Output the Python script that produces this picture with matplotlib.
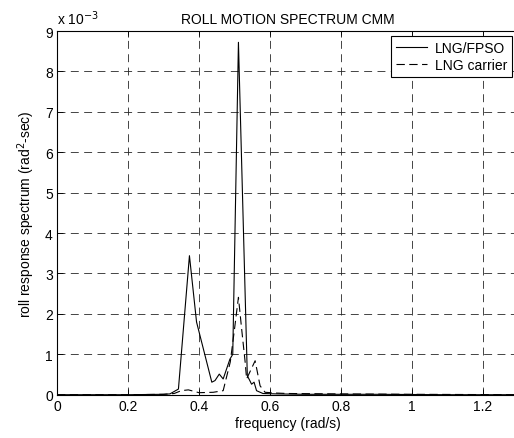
import matplotlib
matplotlib.use('Agg')
import matplotlib.pyplot as plt
import numpy as np

plt.rcParams['font.family'] = ['Liberation Sans', 'DejaVu Sans']
plt.rcParams['font.size'] = 10

# spectrum values in units of 1e-3 rad^2-sec
freq_fpso = [0.0, 0.20, 0.30, 0.318, 0.342, 0.373, 0.393, 0.436, 0.445, 0.457,
             0.468, 0.487, 0.495, 0.511, 0.536, 0.543, 0.548, 0.555, 0.562,
             0.58, 0.62, 0.70, 0.90, 1.10, 1.30]
roll_fpso = [0.0, 0.0, 0.01, 0.02, 0.14, 3.44, 1.8, 0.31, 0.35, 0.51,
             0.39, 0.88, 1.0, 8.72, 0.47, 0.35, 0.26, 0.31, 0.10,
             0.03, 0.02, 0.01, 0.01, 0.0, 0.0]

freq_carrier = [0.0, 0.20, 0.30, 0.33, 0.35, 0.37, 0.40, 0.44, 0.468, 0.488,
                0.500, 0.511, 0.520, 0.530, 0.534, 0.558, 0.572, 0.586,
                0.62, 0.65, 0.80, 1.00, 1.30]
roll_carrier = [0.0, 0.0, 0.01, 0.03, 0.10, 0.12, 0.05, 0.06, 0.10, 0.81,
                1.63, 2.41, 1.63, 0.80, 0.39, 0.84, 0.22, 0.06,
                0.04, 0.03, 0.02, 0.01, 0.0]

x_ticks = [0, 0.2, 0.4, 0.6, 0.8, 1.0, 1.2]
x_tick_labels = ['0', '0.2', '0.4', '0.6', '0.8', '1', '1.2']
y_ticks = list(range(10))

fig = plt.figure(figsize=(5.14, 4.39), dpi=100)
ax = fig.add_axes([0.1109, 0.0986, 0.898, 0.8285])

ax.plot(freq_fpso, roll_fpso, '-', color='k', lw=0.8, label='LNG/FPSO')
ax.plot(freq_carrier, roll_carrier, '--', color='k', lw=0.8,
        dashes=(7.5, 4), label='LNG carrier')

ax.set_xlim(0, 1.3)
ax.set_ylim(0, 9)
ax.set_xticks(x_ticks)
ax.set_xticklabels(x_tick_labels)
ax.set_yticks(y_ticks)
ax.tick_params(direction='in', top=True, right=False, length=4, width=0.6, pad=3)
ax.grid(True, color='0.15', linestyle=(0, (9.5, 6.5)), linewidth=0.6)
for s in ax.spines.values():
    s.set_linewidth(0.8)

ax.set_title('ROLL MOTION SPECTRUM CMM', fontsize=10, pad=6)
ax.set_xlabel('frequency (rad/s)', labelpad=2)
ax.set_ylabel('roll response spectrum (rad$^2$-sec)', labelpad=6)
ax.text(0.0, 1.012, 'x 10$^{-3}$', transform=ax.transAxes, ha='left', va='bottom')

leg = ax.legend(loc='upper right', bbox_to_anchor=(0.986, 0.986), fancybox=False,
                framealpha=1, edgecolor='k', handlelength=2.2, borderpad=0.35,
                labelspacing=0.2, borderaxespad=0, handletextpad=0.6)
leg.get_frame().set_linewidth(0.8)

fig.savefig('out.png', dpi=100)
